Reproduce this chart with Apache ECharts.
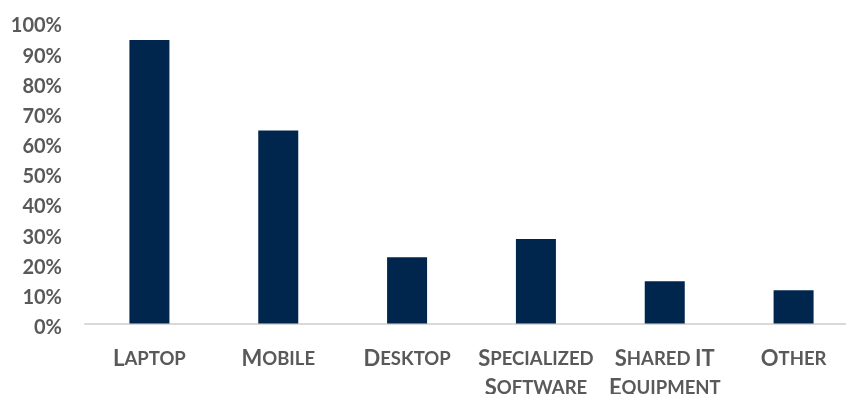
<!DOCTYPE html>
<html>
<head>
<meta charset="utf-8">
<script src="https://cdn.jsdelivr.net/npm/echarts@6/dist/echarts.min.js"></script>
<style>html,body{margin:0;padding:0;background:#fff}#c{width:846px;height:394px}</style>
</head>
<body>
<div id="c"></div>
<script>
const categories = ['Laptop', 'Mobile', 'Desktop', 'Specialized Software', 'Shared IT Equipment', 'Other'];
const values = [94, 64, 22, 28, 14, 11];
const yTicks = [0, 10, 20, 30, 40, 50, 60, 70, 80, 90, 100];

// Render a word in small caps via rich text: first letter (or all-caps word) large, rest small uppercase
function smallCapsWord(w) {
  if (w === w.toUpperCase()) return '{a|' + w + '}';
  return '{a|' + w[0].toUpperCase() + '}{b|' + w.slice(1).toUpperCase() + '}';
}
function smallCapsLabel(label) {
  const lines = {
    'Specialized Software': ['Specialized', 'Software'],
    'Shared IT Equipment': ['Shared IT', 'Equipment']
  }[label] || [label];
  return lines.map(l => l.split(' ').map(smallCapsWord).join('{b| }')).join('\n');
}

const chart = echarts.init(document.getElementById('c'), null, {renderer: 'canvas'});
chart.setOption({
  animation: false,
  grid: {left: 85, right: -12, top: 22, bottom: 70.5, containLabel: false, outerBoundsMode: 'none'},
  xAxis: {
    type: 'category',
    data: categories,
    axisLine: {show: true, lineStyle: {color: '#d9d9d9', width: 2}},
    axisTick: {show: false},
    axisLabel: {
      interval: 0,
      margin: 21,
      color: '#595959',
      formatter: v => smallCapsLabel(v),
      rich: {
        a: {fontFamily: 'Lato', fontWeight: 'bold', fontSize: 22, color: '#595959', lineHeight: 29},
        b: {fontFamily: 'Lato', fontWeight: 'bold', fontSize: 18.5, color: '#595959', lineHeight: 29}
      }
    }
  },
  yAxis: {
    type: 'value',
    min: 0, max: 100, interval: 10,
    axisLine: {show: false},
    axisTick: {show: false},
    splitLine: {show: false},
    axisLabel: {
      margin: 23,
      color: '#595959',
      formatter: v => yTicks.includes(v) ? '{v|' + v + '%}' : '',
      rich: {
        v: {fontFamily: 'Lato', fontWeight: 'bold', fontSize: 20, color: '#595959', lineHeight: 20, padding: [8, 0, 0, 0]}
      }
    }
  },
  series: [{
    type: 'bar',
    data: values,
    barWidth: 40,
    itemStyle: {color: '#00264e'}
  }]
});
</script>
</body>
</html>
